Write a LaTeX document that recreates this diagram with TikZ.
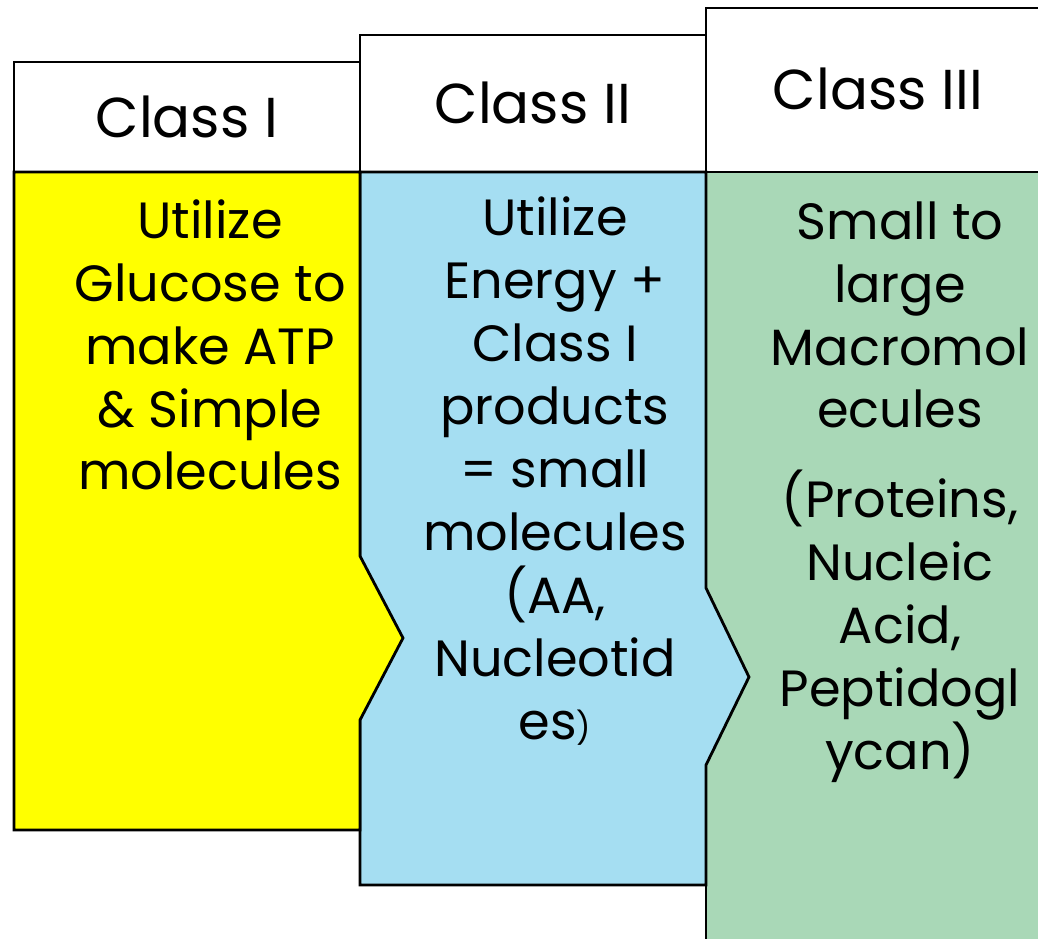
\documentclass[tikz,border=0pt]{standalone}
\usepackage{fontspec}
\setmainfont{Poppins}
\definecolor{classyellow}{HTML}{FFFF00}
\definecolor{classblue}{HTML}{A5DEF2}
\definecolor{classgreen}{HTML}{A9D8B7}
\tikzset{
  box/.style={draw=black, line width=1.6pt, line join=miter},
  head/.style={font=\fontsize{32}{38}\selectfont, anchor=base, inner sep=0pt},
  body/.style={font=\fontsize{29}{35.8}\selectfont, align=center, inner sep=0pt},
}

\begin{document}
\begin{tikzpicture}[x=0.02cm,y=-0.02cm]
    \useasboundingbox (0,0) rectangle (1038,938);

    % header boxes
    \draw[box, fill=white] (14,62) rectangle (360,172);
    \draw[box, fill=white] (360,35) rectangle (706,172);
    \draw[box, fill=white] (706,8) rectangle (1050,172);

    % body panels, right one first so the tips lie on top
    \draw[box, fill=classgreen] (706,172) rectangle (1050,950);
    \draw[box, fill=classblue] (360,172) -- (706,172) -- (706,588) -- (749,677)
        -- (706,765) -- (706,885) -- (360,885) -- cycle;
    \draw[box, fill=classyellow] (14,172) -- (360,172) -- (360,556) -- (403,638)
        -- (360,720) -- (360,830) -- (14,830) -- cycle;

    \node[head] at (187,137) (c1) {Class I};
    \node[head] at (533,123) (c2) {Class II};
    \node[head] at (878,109) (c3) {Class III};

    \node[body] at (210,345) (t1) {Utilize\\Glucose to\\make ATP\\\& Simple\\molecules};
    \node[body] at (555,471) (t2) {Utilize\\Energy +\\Class I\\products\\= small\\molecules\\(AA,\\Nucleotid\\es{\fontsize{18}{22}\selectfont)}};
    \node[body] at (900,315) (t3a) {Small to\\large\\Macromol\\ecules};
    \node[body] at (900,626) (t3b) {(Proteins,\\Nucleic\\Acid,\\Peptidogl\\ycan)};
\end{tikzpicture}
\end{document}
